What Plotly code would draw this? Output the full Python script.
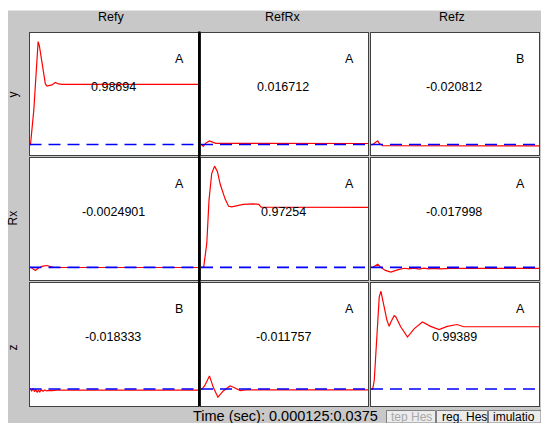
import plotly.graph_objects as go

W, H = 541, 423

# ---------------- data ----------------
col_names = ["Refy", "RefRx", "Refz"]
row_names = ["y", "Rx", "z"]

# time in ms (0.000125 s .. 0.0375 s)
t_y_Refy = [0, 0.22, 0.95, 1.48, 1.92, 2.2, 2.8, 3.53, 3.9, 5.0, 5.74, 6.46, 7.3, 37.5]
v_y_Refy = [0, 0, 0.56, 1.27, 1.69, 1.62, 1.32, 0.995, 0.96, 0.98, 1.02, 0.995, 0.987, 0.98694]

t_y_RefRx = [0, 0.2, 0.5, 1.2, 1.9, 2.6, 3.3, 37.5]
v_y_RefRx = [0, 0, -0.03, 0.03, 0.06, 0.04, 0.02, 0.016712]

t_y_Refz = [0, 0.4, 0.9, 1.5, 1.84, 2.6, 37.5]
v_y_Refz = [0, 0, 0.03, 0.06, 0.02, -0.02, -0.020812]

t_Rx_Refy = [0, 0.3, 1.3, 2.0, 3.0, 3.9, 5.3, 6.0, 37.5]
v_Rx_Refy = [0, 0, -0.05, -0.01, 0.02, 0.03, 0.0, -0.0025, -0.0024901]

t_Rx_RefRx = [0, 0.6, 1.3, 1.8, 2.4, 3.05, 3.7, 4.3, 5.4, 6.2, 6.9, 8.0, 9.5, 11.7, 13.0, 13.5, 37.5]
v_Rx_RefRx = [0, 0, 0.39, 1.09, 1.52, 1.64, 1.55, 1.35, 1.11, 0.99, 0.98, 1.0, 1.02, 1.03, 1.02, 0.975, 0.97254]

t_Rx_Refz = [0, 0.4, 1.5, 2.2, 3.2, 4.44, 5.9, 7.4, 8.5, 9.6, 10.7, 11.8, 12.9, 14.0, 15.5, 17.7, 37.5]
v_Rx_Refz = [0, 0, 0.05, 0.0, -0.05, -0.076, -0.04, -0.015, -0.025, -0.012, -0.028, -0.014, -0.026, -0.016, -0.024, -0.018, -0.017998]

t_z_Refy = [0, 0.2, 0.5, 0.8, 1.1, 1.4, 1.7, 2.0, 2.3, 2.6, 3.0, 3.4, 3.8, 4.3, 5.0, 6.0, 37.5]
v_z_Refy = [0, 0, -0.03, 0.01, -0.04, -0.01, -0.05, -0.02, -0.045, -0.01, -0.035, -0.015, -0.03, -0.02, -0.025, -0.018, -0.018333]

t_z_RefRx = [0, 0.2, 0.8, 1.9, 2.8, 3.8, 5.0, 6.5, 7.3, 8.8, 10.0, 37.5]
v_z_RefRx = [0, 0, 0.05, 0.21, 0.02, -0.13, -0.03, 0.05, 0.03, -0.025, -0.012, -0.011757]

t_z_Refz = [0, 0.38, 0.73, 1.33, 1.84, 2.22, 2.82, 3.55, 4.06, 4.44, 5.17, 5.55, 6.66, 8.14, 9.61, 11.47, 13.3, 15.2, 17.0, 19.2, 20.7, 37.5]
v_z_Refz = [0, 0, 0.14, 0.83, 1.47, 1.56, 1.36, 1.10, 1.0, 1.07, 1.17, 1.15, 0.99, 0.83, 0.96, 1.07, 1.0, 0.95, 1.0, 1.03, 0.994, 0.99389]

ref_t = [0, 37.5]
ref_v = [0, 0]

value_labels = [["0.98694", "0.016712", "-0.020812"],
                ["-0.0024901", "0.97254", "-0.017998"],
                ["-0.018333", "-0.011757", "0.99389"]]
grade_labels = [["A", "A", "B"],
                ["A", "A", "A"],
                ["B", "A", "A"]]

time_label = "Time (sec): 0.000125:0.0375"
button_labels = ["tep Hes", "reg. Hes", "imulatio"]

series_t = [[t_y_Refy, t_y_RefRx, t_y_Refz],
            [t_Rx_Refy, t_Rx_RefRx, t_Rx_Refz],
            [t_z_Refy, t_z_RefRx, t_z_Refz]]
series_v = [[v_y_Refy, v_y_RefRx, v_y_Refz],
            [v_Rx_Refy, v_Rx_RefRx, v_Rx_Refz],
            [v_z_Refy, v_z_RefRx, v_z_Refz]]

# ---------------- layout helpers ----------------
def X(px):
    return px / W

def Y(py):
    return 1 - py / H

col_px = [(29.5, 198), (201, 368), (371, 539)]
row_px = [(32.5, 155), (157.5, 280), (282.5, 406)]
row_yrange = [[-0.172, 1.84], [-0.205, 1.78], [-0.27, 1.70]]
col_text_x = [113, 283, 454]
header_x = [110.5, 282, 452]
row_label_y = [95, 218, 348]

FONT = "Liberation Sans, Arial, sans-serif"
RED = "#ff0000"
BLUE = "#0000ff"
GRAY = "#c8c8c8"
BORDER = "#404040"

fig = go.Figure()
layout = dict(
    width=W, height=H, autosize=False,
    margin=dict(l=0, r=0, t=0, b=0),
    paper_bgcolor=GRAY, plot_bgcolor="white",
    showlegend=False,
    font=dict(family=FONT, size=12, color="black"),
)

annotations = []
shapes = []

k = 0
for r in range(3):
    for c in range(3):
        k += 1
        xa = "x" if k == 1 else f"x{k}"
        ya = "y" if k == 1 else f"y{k}"
        xkey = "xaxis" if k == 1 else f"xaxis{k}"
        ykey = "yaxis" if k == 1 else f"yaxis{k}"
        layout[xkey] = dict(domain=[X(col_px[c][0]), X(col_px[c][1])], range=[0, 37.5],
                            anchor=ya, showline=True, mirror=True, linecolor=BORDER, linewidth=1,
                            showgrid=False, zeroline=False, showticklabels=False, ticks="", fixedrange=True)
        layout[ykey] = dict(domain=[Y(row_px[r][1]), Y(row_px[r][0])], range=row_yrange[r],
                            anchor=xa, showline=True, mirror=True, linecolor=BORDER, linewidth=1,
                            showgrid=False, zeroline=False, showticklabels=False, ticks="", fixedrange=True)
        fig.add_trace(go.Scatter(x=series_t[r][c], y=series_v[r][c], mode="lines",
                                 line=dict(color=RED, width=1.2), xaxis=xa, yaxis=ya,
                                 hoverinfo="skip"))
        fig.add_trace(go.Scatter(x=ref_t, y=ref_v, mode="lines",
                                 line=dict(color=BLUE, width=1.6, dash="12px,7px"),
                                 xaxis=xa, yaxis=ya, hoverinfo="skip"))
        annotations.append(dict(x=X(col_text_x[c]), y=Y(row_px[r][0] + 54), xref="paper", yref="paper",
                                text=value_labels[r][c], showarrow=False, xanchor="center", yanchor="middle",
                                font=dict(size=12.5, family=FONT, color="black")))
        annotations.append(dict(x=X(col_px[c][1] - 19), y=Y(row_px[r][0] + 26), xref="paper", yref="paper",
                                text=grade_labels[r][c], showarrow=False, xanchor="center", yanchor="middle",
                                font=dict(size=12.5, family=FONT, color="black")))

for c in range(3):
    annotations.append(dict(x=X(header_x[c]), y=Y(17), xref="paper", yref="paper", text=col_names[c],
                            showarrow=False, xanchor="center", yanchor="middle",
                            font=dict(size=12.5, family=FONT, color="black")))
for r in range(3):
    annotations.append(dict(x=X(12.5), y=Y(row_label_y[r]), xref="paper", yref="paper", text=row_names[r],
                            showarrow=False, xanchor="center", yanchor="middle", textangle=-90,
                            font=dict(size=12, family=FONT, color="black")))

annotations.append(dict(x=X(191), y=Y(415.5), xref="paper", yref="paper", text=time_label,
                        showarrow=False, xanchor="left", yanchor="middle",
                        font=dict(size=14.5, family=FONT, color="black")))

shapes.append(dict(type="rect", xref="paper", yref="paper", x0=0, x1=1, y0=Y(10.5), y1=1,
                   fillcolor="white", line=dict(width=0), layer="below"))
shapes.append(dict(type="rect", xref="paper", yref="paper", x0=0, x1=X(8), y0=0, y1=1,
                   fillcolor="white", line=dict(width=0), layer="below"))

btn_px = [(386.5, 435.5), (436.5, 487.5), (488.5, 541)]
btn_text_x = [389, 440, 491]
btn_colors = ["#a8a8a8", "black", "black"]
for i in range(3):
    shapes.append(dict(type="rect", xref="paper", yref="paper", x0=X(btn_px[i][0]), x1=X(btn_px[i][1]),
                       y0=Y(423), y1=Y(410.5), fillcolor="#ececec",
                       line=dict(color="#808080", width=1), layer="above"))
    annotations.append(dict(x=X(btn_text_x[i]), y=Y(417), xref="paper", yref="paper", text=button_labels[i],
                            showarrow=False, xanchor="left", yanchor="middle",
                            font=dict(size=12, family=FONT, color=btn_colors[i])))

shapes.append(dict(type="line", xref="paper", yref="paper", x0=X(199.3), x1=X(199.3),
                   y0=Y(406.5), y1=Y(31.5), line=dict(color="black", width=2.5), layer="above"))

layout["annotations"] = annotations
layout["shapes"] = shapes
fig.update_layout(**layout)

fig.write_html("out.html", config={"displayModeBar": False},
               post_script="document.body.style.margin='0px';document.body.style.overflow='hidden';")
